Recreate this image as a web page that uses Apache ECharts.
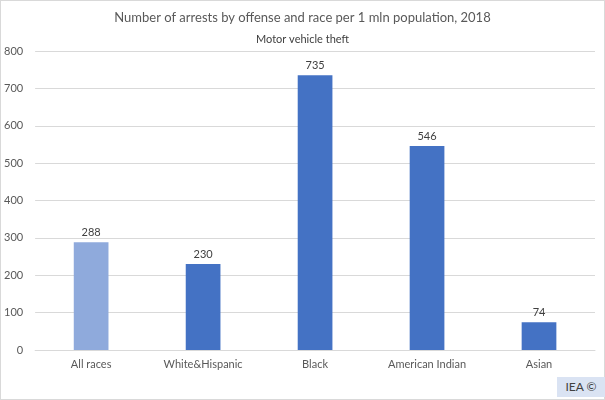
<!DOCTYPE html>
<html><head><meta charset="utf-8">
<script src="https://cdn.jsdelivr.net/npm/echarts@6/dist/echarts.min.js"></script>
<style>
html,body{margin:0;padding:0;background:#fff;}
#c{width:605px;height:400px;box-sizing:border-box;border:1px solid #d9d9d9;position:relative;}
#iea{position:absolute;left:557px;top:377px;width:48px;height:20px;background:#dae3f3;color:#404040;font:12px Lato,sans-serif;line-height:20px;text-align:center;}
</style></head>
<body>
<div id="c"></div>
<script>
const categories = ["All races", "White&Hispanic", "Black", "American Indian", "Asian"];
const values = [288, 230, 735, 546, 74];
const yTicks = [0, 100, 200, 300, 400, 500, 600, 700, 800];
const highlight = "All races";

const chart = echarts.init(document.getElementById('c'), null, {renderer: 'canvas'});
const font = 'Lato, "Noto Sans", sans-serif';
chart.setOption({
  animation: false,
  textStyle: {fontFamily: font},
  title: [
    {text: "Number of arrests by offense and race per 1 mln population, 2018", left: 'center', top: 5,
     textStyle: {fontSize: 13, fontWeight: 'normal', color: '#595959', fontFamily: font}},
    {text: "Motor vehicle theft", left: 'center', top: 28,
     textStyle: {fontSize: 11, fontWeight: 'normal', color: '#404040', fontFamily: font}}
  ],
  grid: {left: 34, right: 9, top: 50, bottom: 49, containLabel: false},
  xAxis: {
    type: 'category', data: categories,
    axisLine: {lineStyle: {color: '#d9d9d9'}},
    axisTick: {show: false},
    axisLabel: {color: '#595959', fontSize: 11, margin: 9, fontFamily: font}
  },
  yAxis: {
    type: 'value', min: yTicks[0], max: yTicks[yTicks.length - 1], interval: 100,
    axisLine: {show: false}, axisTick: {show: false},
    splitLine: {lineStyle: {color: '#d9d9d9'}},
    axisLabel: {color: '#595959', fontSize: 11, margin: 12, fontFamily: font}
  },
  series: [{
    type: 'bar',
    barWidth: '31%',
    data: categories.map((c, i) => ({
      value: values[i],
      itemStyle: {color: c === highlight ? '#8faadc' : '#4472c4'}
    })),
    label: {show: true, position: 'top', color: '#404040', fontSize: 11, distance: 4, fontFamily: font}
  }]
});
</script>
<div id="iea">IEA ©</div>
</body></html>
